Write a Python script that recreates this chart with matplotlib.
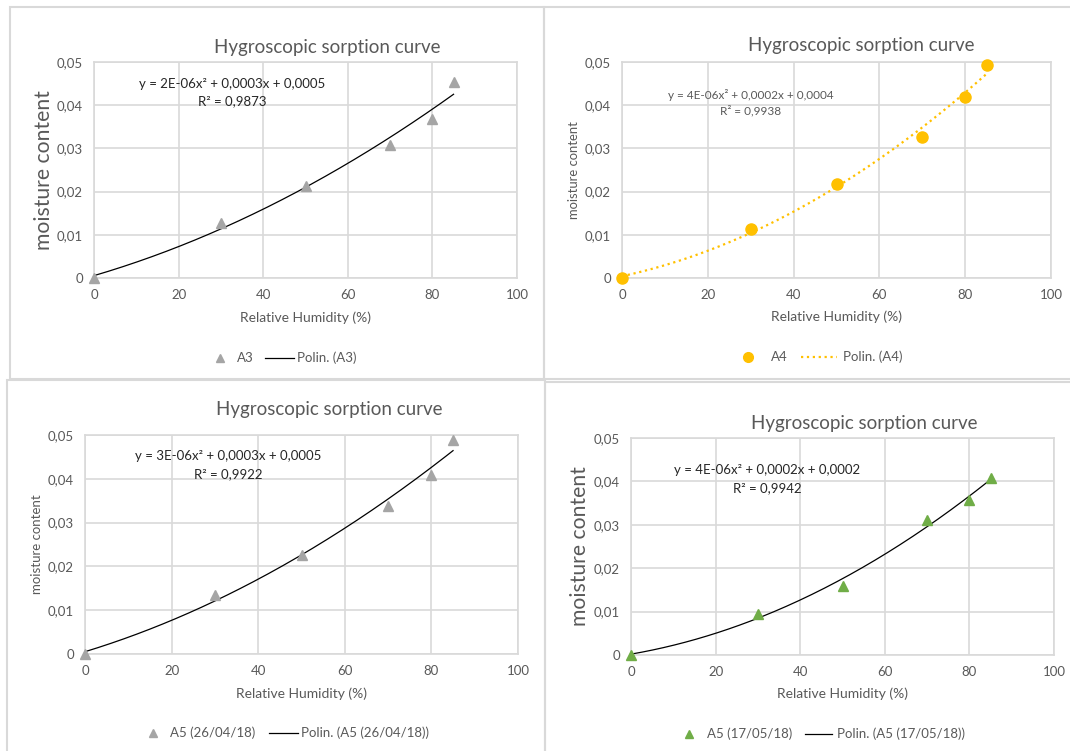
import numpy as np
import matplotlib
matplotlib.use("Agg")
import matplotlib.pyplot as plt
from matplotlib.patches import Rectangle

plt.rcParams['font.family'] = ['Lato', 'DejaVu Sans']

W, H = 1070, 751

# data
rh = [0, 30, 50, 70, 80, 85]
a3 = [0.0, 0.0127, 0.0213, 0.0308, 0.0369, 0.0454]
a4 = [0.0, 0.0113, 0.0218, 0.0327, 0.0419, 0.0493]
a5_2604 = [0.0, 0.0135, 0.0226, 0.0339, 0.0409, 0.0488]
a5_1705 = [0.0, 0.0095, 0.0160, 0.0310, 0.0356, 0.0408]

names = ['A3', 'A4', 'A5 (26/04/18)', 'A5 (17/05/18)']
equations = ['y = 2E-06x² + 0,0003x + 0,0005',
             'y = 4E-06x² + 0,0002x + 0,0004',
             'y = 3E-06x² + 0,0003x + 0,0005',
             'y = 4E-06x² + 0,0002x + 0,0002']
r2_texts = ['R² = 0,9873', 'R² = 0,9938', 'R² = 0,9922', 'R² = 0,9942']
series = [a3, a4, a5_2604, a5_1705]

xticks = [0, 20, 40, 60, 80, 100]
yticks = [0, 0.01, 0.02, 0.03, 0.04, 0.05]
ytick_labels = ['0', '0,01', '0,02', '0,03', '0,04', '0,05']

# layout in pixels: axes (x0, x1, ytop, ybottom), title, ylabel, equation, legend
panels = [
    dict(ax=(94, 517, 62, 278), title=(327, 47), ylab=(44, 15.2), eq=(139, 84, 9.5, '#262626', 17),
         xlab=318, leg=(220, 237, 265, 294, 297, 358), marker='^', color='#a5a5a5', ms=7,
         line=dict(color='black', lw=0.9, ls='-')),
    dict(ax=(622, 1051, 62, 278), title=(861, 46), ylab=(574, 9.4), eq=(668, 95, 8.5, '#595959', 16),
         xlab=317, leg=(748, 771, 801, 837, 843, 357), marker='o', color='#ffc000', ms=8,
         line=dict(color='#ffc000', lw=1.6, ls=':')),
    dict(ax=(85, 518, 435, 654), title=(329, 410), ylab=(37, 9.5), eq=(135, 456, 9.5, '#262626', 18),
         xlab=694, leg=(153, 170, 269, 298, 301, 733), marker='^', color='#a5a5a5', ms=7,
         line=dict(color='black', lw=0.9, ls='-')),
    dict(ax=(631, 1054, 438, 655), title=(864, 423), ylab=(580, 15.2), eq=(674, 470, 9.5, '#262626', 18),
         xlab=694, leg=(689, 707, 805, 832, 837, 734), marker='^', color='#70ad47', ms=7,
         line=dict(color='black', lw=0.9, ls='-')),
]

fig = plt.figure(figsize=(W / 100, H / 100), dpi=100)


def fx(px):
    return px / W


def fy(py):
    return 1 - py / H


# panel frames
for (x0, y0, x1, y1) in [(10, 7, 544, 379), (544, 7, 1075, 379), (7, 380, 545, 760), (545, 382, 1075, 760)]:
    fig.patches.append(Rectangle((fx(x0), fy(y1)), fx(x1 - x0), (y1 - y0) / H,
                                 transform=fig.transFigure, fill=False,
                                 edgecolor='#d9d9d9', lw=1.5))

for i, p in enumerate(panels):
    x0, x1, yt, yb = p['ax']
    ax = fig.add_axes([fx(x0), fy(yb), fx(x1 - x0), (yb - yt) / H])
    ys = series[i]
    ax.plot(rh, ys, linestyle='none', marker=p['marker'], color=p['color'],
            markersize=p['ms'], zorder=3, clip_on=False)
    # Excel-style polynomial (order 2) trendline
    coef = np.polyfit(rh, ys, 2)
    xx = np.linspace(min(rh), max(rh), 200)
    ax.plot(xx, np.polyval(coef, xx), color=p['line']['color'], lw=p['line']['lw'],
            ls=p['line']['ls'], zorder=2)
    ax.set_xlim(0, 100)
    ax.set_ylim(0, 0.05)
    ax.set_xticks(xticks)
    ax.set_yticks(yticks)
    ax.set_yticklabels(ytick_labels)
    ax.grid(True, color='#d9d9d9', lw=1.2)
    ax.set_axisbelow(True)
    for s in ax.spines.values():
        s.set_color('#d9d9d9')
        s.set_linewidth(1.2)
    ax.tick_params(length=0, labelsize=9.5, labelcolor='#595959', pad=8)
    ax.patch.set_alpha(0)

    fig.text(fx(p['title'][0]), fy(p['title'][1]), 'Hygroscopic sorption curve',
             ha='center', va='center', fontsize=13.5, color='#595959')
    fig.text(fx(p['ylab'][0]), fy((yt + yb) / 2), 'moisture content', rotation=90,
             ha='center', va='center', fontsize=p['ylab'][1], color='#595959')
    fig.text(fx((x0 + x1) / 2), fy(p['xlab']), 'Relative Humidity (%)',
             ha='center', va='center', fontsize=10, color='#595959')
    ex, ey, es, ec, gap = p['eq']
    t = fig.text(fx(ex), fy(ey), equations[i], ha='left', va='center', fontsize=es, color=ec)
    fig.canvas.draw()
    bb = t.get_window_extent()
    cx = (bb.x0 + bb.x1) / 2 / W
    fig.text(cx, fy(ey + gap), r2_texts[i], ha='center', va='center', fontsize=es, color=ec)

    mx, tx, lx0, lx1, ptx, ly = p['leg']
    fig.lines.append(plt.Line2D([fx(mx)], [fy(ly)], marker=p['marker'], color=p['color'],
                                markersize=p['ms'] - 1, transform=fig.transFigure))
    fig.text(fx(tx), fy(ly), names[i], ha='left', va='center', fontsize=9.5, color='#595959')
    fig.lines.append(plt.Line2D([fx(lx0), fx(lx1)], [fy(ly), fy(ly)], color=p['line']['color'],
                                lw=p['line']['lw'], ls=p['line']['ls'], transform=fig.transFigure))
    fig.text(fx(ptx), fy(ly), 'Polin. (' + names[i] + ')', ha='left', va='center',
             fontsize=9.5, color='#595959')

fig.savefig('out.png', dpi=100, facecolor='white')
